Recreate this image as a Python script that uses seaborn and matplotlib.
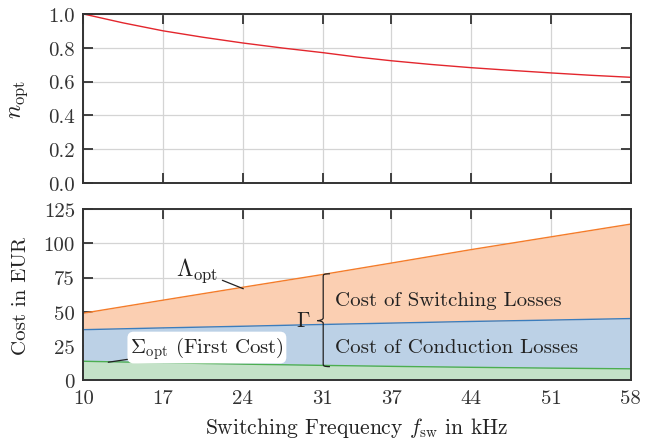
import numpy as np
import pandas as pd
import matplotlib
matplotlib.use("Agg")
import matplotlib.pyplot as plt
from matplotlib.path import Path
from matplotlib.patches import PathPatch
import seaborn as sns

# ---- data ----
freq_top = [10, 13.5, 17, 20.5, 24, 27.5, 31, 34, 37, 40.5, 44, 47.5, 51, 54.5, 58]
n_opt = [1.0, 0.947, 0.900, 0.862, 0.828, 0.798, 0.771, 0.745, 0.723, 0.701,
         0.682, 0.666, 0.651, 0.637, 0.625]
freq_khz = [10, 17, 24, 31, 37, 44, 51, 58]
lambda_opt = [49, 58.5, 67.9, 77.2, 85.5, 95.3, 104.6, 113.9]
conduction_top = [37, 38.3, 39.5, 40.8, 41.8, 43.0, 44.0, 45.1]
sigma_opt = [14, 12.9, 11.9, 11.0, 10.3, 9.6, 9.0, 8.5]
x_ticks = [10, 17, 24, 31, 37, 44, 51, 58]
y_ticks_top = [0.0, 0.2, 0.4, 0.6, 0.8, 1.0]
y_ticks_bottom = [0, 25, 50, 75, 100, 125]

sns.set_theme(style="whitegrid")
plt.rcParams.update({
    "font.family": "serif",
    "font.serif": ["cmr10", "DejaVu Serif"],
    "mathtext.fontset": "cm",
    "axes.formatter.use_mathtext": True,
    "axes.unicode_minus": False,
    "text.color": "#222222",
    "axes.labelcolor": "#222222",
    "xtick.color": "#333333",
    "ytick.color": "#333333",
    "axes.edgecolor": "#333333",
    "axes.linewidth": 1.4,
    "grid.color": "#d4d4d4",
    "grid.linewidth": 0.9,
})

df_top = pd.DataFrame({"f": freq_top, "n": n_opt})
df = pd.DataFrame({"f": freq_khz, "lam": lambda_opt,
                   "cond": conduction_top, "sig": sigma_opt})

fig = plt.figure(figsize=(6.55, 4.39), dpi=100)
ax1 = fig.add_axes([0.127, 0.581, 0.836, 0.385])
ax2 = fig.add_axes([0.127, 0.131, 0.836, 0.391])

FS = 15
FSM = 17

# top
sns.lineplot(data=df_top, x="f", y="n", ax=ax1, color="#e3262d", linewidth=1.0)
ax1.set_xlim(10, 58)
ax1.set_ylim(0, 1.0)
ax1.set_xticks(x_ticks)
ax1.set_xticklabels([])
ax1.set_yticks(y_ticks_top)
ax1.set_yticklabels([f"{v:.1f}" for v in y_ticks_top], fontsize=FS)
ax1.set_xlabel("")
ax1.set_ylabel(r"$n_{\mathrm{opt}}$", fontsize=FSM)

# bottom
ax2.fill_between(df["f"], 0, df["sig"], color="#c4e2c8", lw=0, zorder=1)
ax2.fill_between(df["f"], df["sig"], df["cond"], color="#bcd1e6", lw=0, zorder=1)
ax2.fill_between(df["f"], df["cond"], df["lam"], color="#fbcfb2", lw=0, zorder=1)
sns.lineplot(data=df, x="f", y="sig", ax=ax2, color="#4cae50", linewidth=1.0, zorder=2)
sns.lineplot(data=df, x="f", y="cond", ax=ax2, color="#3b7dbd", linewidth=1.0, zorder=2)
sns.lineplot(data=df, x="f", y="lam", ax=ax2, color="#f47c2a", linewidth=1.0, zorder=2)
ax2.set_xlim(10, 58)
ax2.set_ylim(0, 125)
ax2.set_xticks(x_ticks)
ax2.set_xticklabels([str(v) for v in x_ticks], fontsize=FS)
ax2.set_yticks(y_ticks_bottom)
ax2.set_yticklabels([str(v) for v in y_ticks_bottom], fontsize=FS)
ax2.set_xlabel(r"Switching Frequency $f_{\mathrm{sw}}$ in $\mathrm{kHz}$", fontsize=15.5,
               labelpad=6)
ax2.set_ylabel("Cost in EUR", fontsize=FS)

for ax in (ax1, ax2):
    ax.set_axisbelow(True)
    ax.grid(True, zorder=0)
    for s in ax.spines.values():
        s.set_zorder(5)
    ax.tick_params(direction="in", length=7, width=1.3, top=True, right=True,
                   bottom=True, left=True, pad=6)
    ax.yaxis.set_label_coords(-0.097, 0.5)

# annotations
ax2.annotate(r"$\Lambda_{\mathrm{opt}}$", xy=(24.04, 66.8), xytext=(21.8, 80.5),
             fontsize=FSM, ha="right", va="center",
             arrowprops=dict(arrowstyle="-", color="#222222", lw=0.9,
                             shrinkA=1, shrinkB=0))
ax2.annotate(r"$\Sigma_{\mathrm{opt}}$ (First Cost)", xy=(12.2, 13.3), xytext=(14.1, 24),
             fontsize=FS, ha="left", va="center",
             bbox=dict(boxstyle="round,pad=0.12,rounding_size=0.3", fc="white", ec="none"),
             arrowprops=dict(arrowstyle="-", color="#222222", lw=0.9,
                             shrinkA=0, shrinkB=0))

# brace
xv, xt, xe = 31.04, 30.52, 31.63
yt, yb, ym = 77.7, 10.1, 43.6
verts = [(xe, yt), (xv + 0.05, yt), (xv, yt - 0.5), (xv, yt - 2.0),
         (xv, ym + 2.0),
         (xv, ym + 0.6), (xt + 0.2, ym), (xt, ym),
         (xt + 0.2, ym), (xv, ym - 0.6), (xv, ym - 2.0),
         (xv, yb + 2.0),
         (xv, yb + 0.5), (xv + 0.05, yb), (xe, yb)]
codes = [Path.MOVETO, Path.CURVE4, Path.CURVE4, Path.CURVE4,
         Path.LINETO,
         Path.CURVE4, Path.CURVE4, Path.CURVE4,
         Path.CURVE4, Path.CURVE4, Path.CURVE4,
         Path.LINETO,
         Path.CURVE4, Path.CURVE4, Path.CURVE4]
ax2.add_patch(PathPatch(Path(verts, codes), fc="none", ec="#222222", lw=0.9, zorder=4))
ax2.text(29.9, 44.0, r"$\Gamma$", fontsize=15.5, ha="right", va="center")
ax2.text(32.07, 58.3, "Cost of Switching Losses", fontsize=FS, ha="left", va="center")
ax2.text(32.07, 24.2, "Cost of Conduction Losses", fontsize=FS, ha="left", va="center")

fig.savefig("out.png", dpi=100)
